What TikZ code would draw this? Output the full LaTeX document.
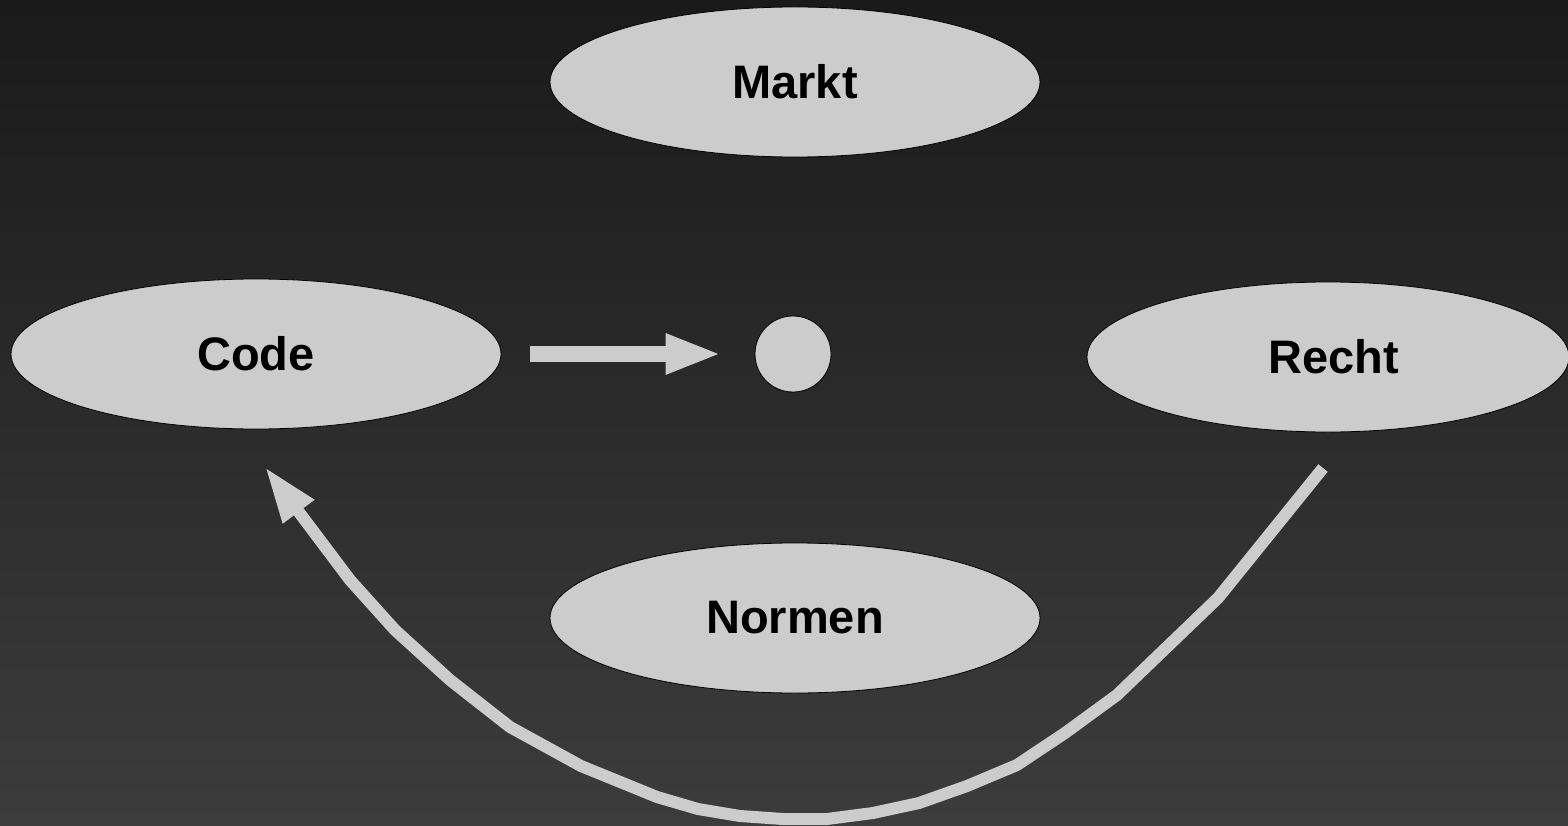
\documentclass[tikz,border=0pt]{standalone}
\usepackage{fontspec}
\setmainfont{Liberation Sans}
\usetikzlibrary{shapes.geometric,arrows.meta,calc}
\definecolor{bgtop}{HTML}{1A1A1A}
\definecolor{bgbot}{HTML}{3C3C3C}
\definecolor{lgray}{HTML}{CCCCCC}
\tikzset{
  oval/.style={ellipse, fill=lgray, draw=black, line width=0.8pt,
    minimum width=490pt, minimum height=150pt, inner sep=0pt,
    font=\fontsize{47}{50}\selectfont\bfseries, text=black},
  dotnode/.style={circle, fill=lgray, draw=black, line width=0.8pt,
    minimum size=76pt, inner sep=0pt},
  blockarrow/.style={draw=lgray, line width=16pt,
    -{Triangle[length=56pt,width=37pt]}, fill=lgray},
  curvearrow/.style={draw=lgray, line width=12pt, line join=miter,
    -{Triangle[length=56pt,width=36pt]}}
}
\begin{document}
\begin{tikzpicture}[x=1pt,y=-1pt]
\useasboundingbox (0,0) rectangle (1568,826);
\clip (0,0) rectangle (1568,826);
\shade[top color=bgtop, bottom color=bgbot] (0,0) rectangle (1568,826);
\node[oval] (markt) at (795,82) {Markt};
\node[oval] (code) at (256,354) {Code};
\node[oval, minimum width=482pt] (recht) at (1328,357) {\hspace*{12pt}Recht};
\node[oval] (normen) at (795,618) {Normen};
\node[dotnode] (dot) at (793,354) {};
\draw[blockarrow, shorten <=29pt, shorten >=33pt] (code.east) -- (dot.west);
\coordinate (cstart) at (1323,468);
\coordinate (cend) at (265,467);
\draw[curvearrow] (cstart) -- (1218,598) -- (1117,695) -- (1065,733) -- (1017,765)
  -- (967,786) -- (919,803) -- (873,813) -- (827,819) -- (783,819) -- (740,816)
  -- (698,809) -- (657,797) -- (581,766) -- (510,727) -- (450,680) -- (395,630)
  -- (350,580) -- (cend);
\end{tikzpicture}
\end{document}
